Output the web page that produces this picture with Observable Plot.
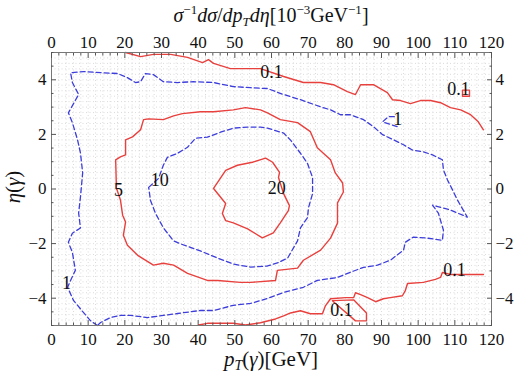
<!DOCTYPE html>
<html>
<head>
<meta charset="utf-8">
<script src="https://cdn.jsdelivr.net/npm/d3@7"></script>
<script src="https://cdn.jsdelivr.net/npm/@observablehq/plot@0.6"></script>
<style>
  body { margin: 0; background: #fff; }
  #chart svg { display: block; }
</style>
</head>
<body>
<div id="chart"></div>
<script>
// Axis ticks
const xTicks = [0, 10, 20, 30, 40, 50, 60, 70, 80, 90, 100, 110, 120];
const yTicks = [-4, -2, 0, 2, 4];

// Contour polylines, [pT (GeV), eta] — level 0.1 (red, solid)
const c01Upper = [[20.2,5.0],[24.3,4.85],[27.8,4.93],[32.5,4.93],[37.1,4.82],[41.2,4.63],[42.8,4.74],[44.2,4.60],[48.8,4.41],[53.5,4.41],[57.0,4.41],[63.3,4.12],[68.7,3.90],[73.4,3.90],[76.9,3.82],[80.7,3.57],[82.9,3.46],[84.3,3.82],[87.8,3.82],[91.6,3.53],[93.0,3.27],[95.2,3.24],[97.9,3.13],[100.6,3.24],[103.4,3.24],[106.1,3.16],[108.8,2.98],[111.6,2.90],[114.3,2.72],[116.4,2.46],[117.8,2.17]];
const c01Island = [[112.1,3.62],[114.0,3.62],[114.0,3.40],[112.1,3.40],[112.1,3.62]];
const c01Lower = [[40.1,-4.98],[42.5,-4.92],[49.6,-4.92],[52.9,-4.98],[57.0,-4.90],[61.1,-4.76],[63.3,-4.65],[65.2,-4.54],[67.9,-4.46],[70.6,-4.57],[73.9,-4.57],[74.7,-4.28],[76.1,-4.02],[80.2,-3.98],[82.4,-3.98],[82.9,-3.80],[84.3,-3.87],[86.2,-3.98],[88.4,-4.13],[90.5,-4.02],[92.4,-3.98],[95.7,-3.91],[96.5,-3.72],[97.1,-3.46],[101.4,-3.42],[104.7,-3.31],[106.1,-3.24],[106.6,-3.06],[108.8,-3.13],[112.4,-3.13],[117.8,-3.13]];
const c01Pocket = [[76.6,-4.09],[82.4,-4.06],[85.9,-4.54],[85.9,-4.83],[82.9,-4.83],[76.6,-4.09]];

// level 1 (blue, dashed)
const c1Outer = [[12.5,-5.0],[10.6,-4.82],[8.7,-4.52],[6.0,-4.08],[4.4,-3.60],[5.2,-3.35],[6.5,-2.98],[5.7,-2.32],[4.6,-1.95],[5.7,-1.62],[7.9,-1.43],[7.4,-0.88],[7.9,-0.29],[8.5,0.59],[7.9,1.32],[7.1,1.80],[5.7,2.43],[4.6,2.79],[7.4,3.46],[5.7,3.90],[5.2,4.26],[8.7,4.30],[13.4,4.26],[18.0,4.23],[20.7,4.08],[22.9,3.90],[24.3,3.93],[25.6,4.23],[27.8,4.19],[30.5,3.93],[34.4,3.90],[38.7,3.93],[44.2,3.90],[49.6,3.75],[54.3,3.71],[58.9,3.68],[63.3,3.46],[67.9,3.27],[73.4,3.01],[76.1,2.90],[78.8,2.72],[81.5,2.72],[85.1,2.54],[87.8,2.28],[90.3,1.99],[93.3,1.80],[96.0,1.62],[98.4,1.43],[101.4,1.36],[103.9,1.25],[106.6,1.07],[106.9,0.70],[108.0,0.33],[109.4,-0.04],[110.7,-0.40],[113.4,-1.03],[108.8,-0.77],[103.9,-0.59],[105.5,-0.88],[106.9,-1.51],[106.6,-1.88],[102.5,-1.80],[98.7,-1.76],[96.5,-1.95],[96.0,-2.24],[92.4,-2.61],[88.9,-2.79],[85.1,-2.87],[81.5,-3.05],[78.0,-3.24],[72.5,-3.35],[68.7,-3.60],[63.3,-3.79],[58.9,-4.01],[54.3,-4.19],[49.6,-4.26],[44.2,-4.45],[40.6,-4.45],[34.4,-4.56],[30.5,-4.63],[26.2,-4.71],[21.5,-4.63],[18.8,-4.63],[16.1,-4.71],[13.4,-4.89],[12.5,-5.0]];
const c1Hook = [[93.5,2.65],[91.9,2.65],[90.3,2.46],[94.4,2.28]];

// level 5 (red, solid)
const c5 = [[17.7,0.04],[17.5,1.07],[18.8,1.18],[20.2,1.25],[20.2,1.80],[22.1,1.91],[24.3,2.17],[25.1,2.54],[26.5,2.57],[30.5,2.54],[33.3,2.68],[35.7,2.76],[40.6,2.83],[44.2,2.83],[49.6,2.90],[52.9,2.98],[57.0,2.90],[58.9,2.79],[62.4,2.54],[67.1,2.43],[70.6,2.10],[72.5,1.51],[76.1,1.07],[77.4,0.59],[79.4,0.22],[79.6,-0.11],[78.0,-0.51],[78.0,-1.25],[76.1,-1.80],[73.4,-2.24],[68.7,-2.61],[67.1,-2.90],[61.6,-2.98],[61.1,-3.35],[54.3,-3.42],[51.5,-3.42],[45.3,-3.35],[42.5,-3.35],[37.1,-3.09],[33.3,-2.79],[30.5,-2.72],[27.8,-2.79],[23.5,-2.43],[20.7,-2.06],[19.6,-1.69],[20.2,-1.21],[19.4,-0.96],[18.8,-0.40],[17.7,0.04]];

// level 10 (blue, dashed)
const c10 = [[26.5,0.06],[29.2,0.39],[30.5,0.87],[31.6,1.16],[34.4,1.31],[37.1,1.53],[39.3,1.86],[42.5,1.90],[46.1,2.08],[49.6,2.23],[53.5,2.27],[57.0,2.27],[58.9,2.23],[63.3,2.05],[65.2,1.79],[67.9,1.31],[69.8,0.94],[71.2,0.42],[71.2,-0.17],[70.1,-0.68],[69.8,-1.05],[67.9,-1.42],[67.1,-1.90],[64.4,-2.53],[61.6,-2.71],[58.9,-2.82],[54.3,-2.86],[49.6,-2.75],[45.3,-2.53],[40.6,-2.27],[35.2,-2.01],[33.3,-1.90],[30.5,-1.42],[28.4,-0.90],[27.0,-0.42],[26.5,0.06]];

// level 20 (red, solid)
const c20 = [[44.2,0.02],[47.5,-0.53],[46.6,-0.90],[47.5,-1.16],[49.6,-1.24],[53.5,-1.46],[57.5,-1.79],[60.5,-1.61],[62.4,-1.24],[64.6,-0.79],[64.9,-0.61],[63.3,-0.17],[61.9,0.42],[62.2,0.61],[60.3,0.98],[58.4,1.13],[54.8,0.98],[50.7,0.87],[47.5,0.68],[44.2,0.02]];

// Contour labels
const labelText = ["0.1", "0.1", "1", "10", "5", "20", "1", "0.1", "0.1"];
const labelX    = [60.0, 111.0, 94.4, 29.5, 18.3, 61.4, 4.1, 109.9, 79.1];
const labelY    = [4.26, 3.64, 2.54, 0.33, -0.04, 0.04, -3.46, -2.98, -4.45];

const solidPieces = [c01Upper, c01Island, c01Lower, c01Pocket, c5, c20];
const dashedPieces = [c1Outer, c1Hook, c10];
const toRows = (pieces) => pieces.flatMap((p, i) => p.map(([x, y]) => ({x, y, id: i})));
const solidRows = toRows(solidPieces);
const dashedRows = toRows(dashedPieces);
const labels = labelText.map((t, i) => ({text: t, x: labelX[i], y: labelY[i]}));

const xGrid = d3.range(0, 121, 2);
const yGrid = d3.range(-5, 5.001, 0.2);
const xMinor = d3.range(0, 121, 2).filter(v => v % 10 !== 0);
const yMinor = d3.range(-5, 5.001, 0.5).filter(v => Math.abs(v % 2) > 1e-6);

const serif = "Liberation Serif, Times New Roman, serif";
const red = "#e8403d";
const blue = "#3d3ddb";
const axisColor = "#555";

const svg = Plot.plot({
  width: 516,
  height: 374,
  marginTop: 52,
  marginRight: 25,
  marginBottom: 49,
  marginLeft: 51,
  x: {domain: [0, 120]},
  y: {domain: [-5, 5]},
  style: {fontFamily: serif, fontSize: "17px", background: "#fff", color: "#111"},
  marks: [
    Plot.ruleX(xGrid, {stroke: "#d2d2d2", strokeWidth: 0.8, strokeDasharray: "1,2.5"}),
    Plot.ruleY(yGrid, {stroke: "#d2d2d2", strokeWidth: 0.8, strokeDasharray: "1,2.5"}),
    Plot.line(solidRows, {x: "x", y: "y", z: "id", stroke: red, strokeWidth: 1.4, curve: "linear"}),
    Plot.line(dashedRows, {x: "x", y: "y", z: "id", stroke: blue, strokeWidth: 1.3, strokeDasharray: "5,3", curve: "linear"}),
    Plot.text(labels, {x: "x", y: "y", text: "text", fontSize: 18, fill: "#111"}),
    Plot.frame({stroke: "#777"}),
    Plot.axisX(xTicks, {anchor: "bottom", tickSize: -5, tickPadding: 12, fontSize: 17, stroke: axisColor, label: null}),
    Plot.axisX(xTicks, {anchor: "top", tickSize: -5, tickPadding: 10, fontSize: 17, stroke: axisColor, label: null}),
    Plot.axisX(xMinor, {anchor: "bottom", tickSize: -2.5, tickFormat: () => "", stroke: axisColor, label: null}),
    Plot.axisX(xMinor, {anchor: "top", tickSize: -2.5, tickFormat: () => "", stroke: axisColor, label: null}),
    Plot.axisY(yTicks, {anchor: "left", tickSize: -5, tickPadding: 10, fontSize: 17, stroke: axisColor, label: null}),
    Plot.axisY(yTicks, {anchor: "right", tickSize: -5, tickPadding: 9, fontSize: 17, stroke: axisColor, label: null}),
    Plot.axisY(yMinor, {anchor: "left", tickSize: -2.5, tickFormat: () => "", stroke: axisColor, label: null}),
    Plot.axisY(yMinor, {anchor: "right", tickSize: -2.5, tickFormat: () => "", stroke: axisColor, label: null})
  ]
});

// Titles with sub/superscripts
const root = d3.select(svg);
function addParts(text, parts) {
  for (const [s, opt] of parts) {
    const t = text.append("tspan").text(s);
    if (opt && opt.it) t.attr("font-style", "italic");
    if (opt && opt.dy) t.attr("dy", opt.dy);
    if (opt && opt.fs) t.attr("font-size", opt.fs);
  }
}
const title = root.append("text")
  .attr("x", 271).attr("y", 22)
  .attr("text-anchor", "middle")
  .attr("font-family", serif).attr("font-size", 20).attr("fill", "#111");
addParts(title, [
  ["σ", {it: true}], ["−1", {dy: -8, fs: 13}],
  ["dσ", {it: true, dy: 8}], ["/"], ["dp", {it: true}],
  ["T", {it: true, dy: 4, fs: 13}], ["dη", {it: true, dy: -4}],
  ["[10"], ["−3", {dy: -8, fs: 13}], ["GeV", {dy: 8}],
  ["−1", {dy: -8, fs: 13}], ["]", {dy: 8}]
]);

const xLabel = root.append("text")
  .attr("x", 271).attr("y", 366)
  .attr("text-anchor", "middle")
  .attr("font-family", serif).attr("font-size", 21).attr("fill", "#111");
addParts(xLabel, [
  ["p", {it: true}], ["T", {it: true, dy: 4, fs: 14}],
  ["(", {dy: -4}], ["γ", {it: true}], [")[GeV]"]
]);

const yLabel = root.append("text")
  .attr("transform", "translate(20,187) rotate(-90)")
  .attr("text-anchor", "middle")
  .attr("font-family", serif).attr("font-size", 21).attr("fill", "#111");
addParts(yLabel, [["η", {it: true}], ["("], ["γ", {it: true}], [")"]]);

document.getElementById("chart").appendChild(svg);
</script>
</body>
</html>
